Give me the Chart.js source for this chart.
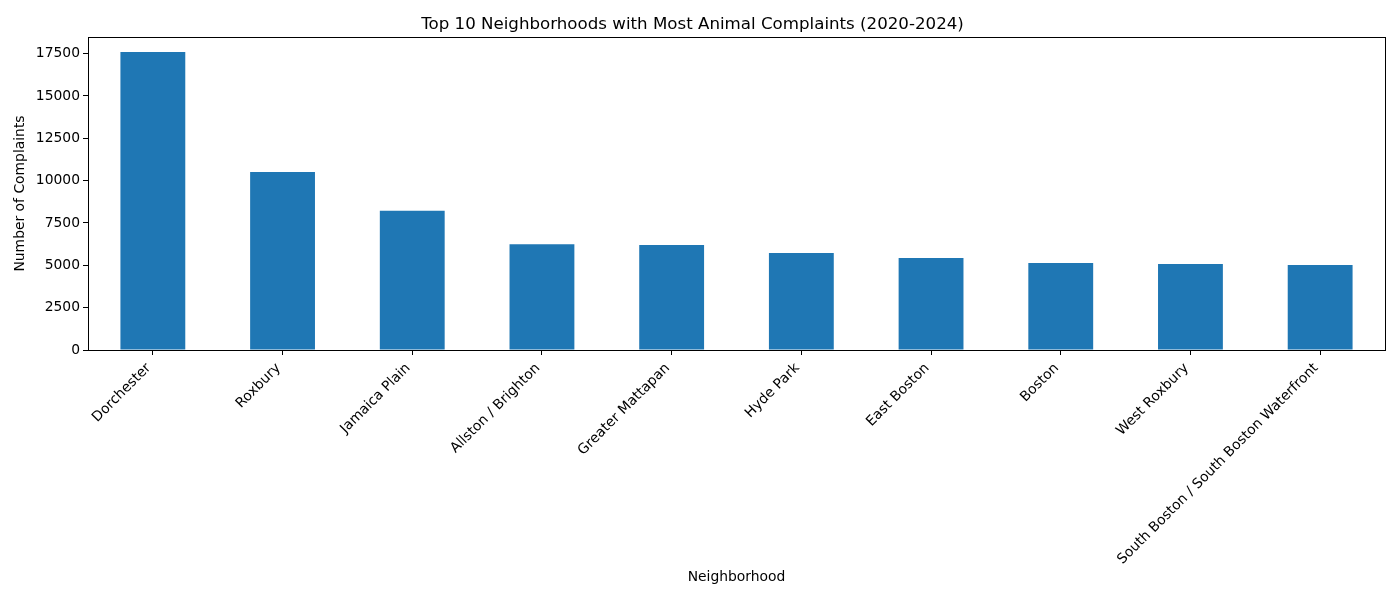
<!DOCTYPE html>
<html>
<head>
<meta charset="utf-8">
<script src="https://cdn.jsdelivr.net/npm/chart.js@4/dist/chart.umd.min.js"></script>
<style>
  html, body { margin: 0; padding: 0; background: #fff; }
  #wrap { width: 1400px; height: 600px; }
</style>
</head>
<body>
<div id="wrap"><canvas id="c" width="1400" height="600"></canvas></div>
<script>
const neighborhoods = [
  "Dorchester", "Roxbury", "Jamaica Plain", "Allston / Brighton", "Greater Mattapan",
  "Hyde Park", "East Boston", "Boston", "West Roxbury", "South Boston / South Boston Waterfront"
];
const complaints = [17600, 10510, 8220, 6250, 6200, 5720, 5430, 5130, 5075, 5015];
const yTicks = [0, 2500, 5000, 7500, 10000, 12500, 15000, 17500];

const FONT = "DejaVu Sans";

const framePlugin = {
  id: 'frame',
  afterDraw(chart) {
    const { ctx, chartArea: a } = chart;
    ctx.save();
    ctx.strokeStyle = '#000';
    ctx.lineWidth = 1;
    ctx.strokeRect(Math.round(a.left) + 0.5, Math.round(a.top) + 0.5,
                   Math.round(a.right - a.left), Math.round(a.bottom - a.top));
    ctx.restore();
  }
};

new Chart(document.getElementById('c'), {
  type: 'bar',
  data: {
    labels: neighborhoods,
    datasets: [{
      data: complaints,
      backgroundColor: '#1f77b4',
      borderWidth: 0,
      categoryPercentage: 1.0,
      barPercentage: 0.5
    }]
  },
  options: {
    responsive: false,
    animation: false,
    devicePixelRatio: 1,
    layout: { padding: { left: 0, right: 15, top: 0, bottom: 0 } },
    plugins: {
      legend: { display: false },
      tooltip: { enabled: false },
      title: {
        display: true,
        text: 'Top 10 Neighborhoods with Most Animal Complaints (2020-2024)',
        color: '#000',
        font: { family: FONT, size: 16.67, weight: 'normal' },
        padding: { top: 15, bottom: 2 }
      }
    },
    scales: {
      x: {
        offset: true,
        grid: { display: true, offset: false, drawOnChartArea: false, drawTicks: true, tickLength: 5, tickColor: '#000', tickWidth: 1 },
        border: { display: false },
        ticks: {
          autoSkip: false,
          minRotation: 45,
          maxRotation: 45,
          padding: 5,
          labelOffset: -4,
          color: '#000',
          font: { family: FONT, size: 13.89 }
        },
        title: {
          display: true,
          text: 'Neighborhood',
          color: '#000',
          font: { family: FONT, size: 13.89 },
          padding: { top: 0, bottom: 14 }
        },
        afterFit(scale) { scale.height = 250; }
      },
      y: {
        min: 0,
        max: 18480,
        grid: { display: true, drawOnChartArea: false, drawTicks: true, tickLength: 5, tickColor: '#000', tickWidth: 1 },
        border: { display: false },
        afterBuildTicks(scale) { scale.ticks = yTicks.map(v => ({ value: v })); },
        ticks: {
          stepSize: 2500,
          includeBounds: false,
          padding: 3,
          color: '#000',
          font: { family: FONT, size: 13.89 },
          callback: v => String(v)
        },
        title: {
          display: true,
          text: 'Number of Complaints',
          color: '#000',
          font: { family: FONT, size: 13.89 },
          padding: { top: 12, bottom: 0 }
        },
        afterFit(scale) { scale.width = 88; }
      }
    }
  },
  plugins: [framePlugin]
});
</script>
</body>
</html>
